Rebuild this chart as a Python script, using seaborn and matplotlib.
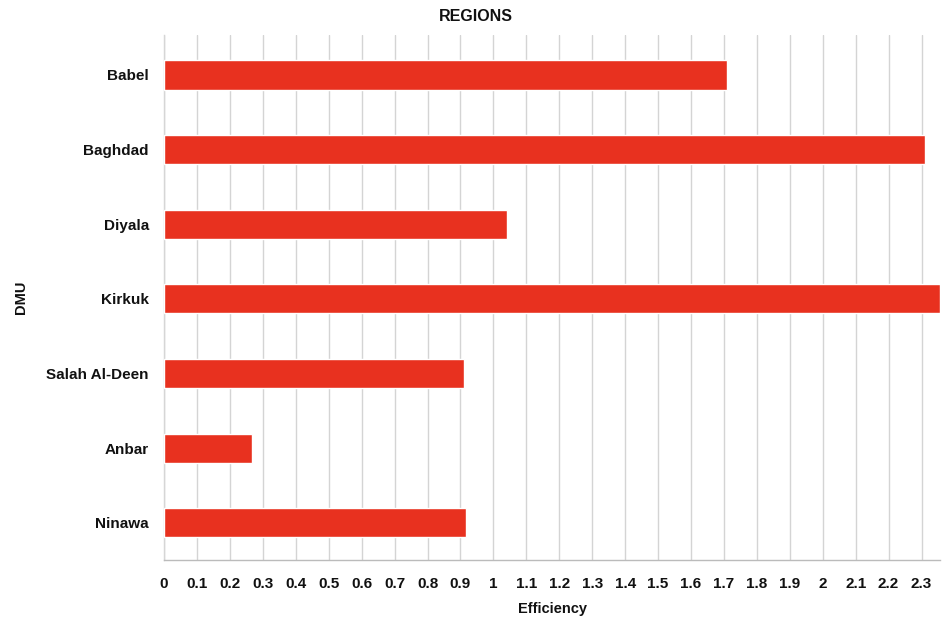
import matplotlib
matplotlib.use("Agg")
import matplotlib.pyplot as plt
import seaborn as sns
import pandas as pd
import numpy as np
from matplotlib.ticker import FixedLocator

# DEA efficiency scores by region
regions = ["Babel", "Baghdad", "Diyala", "Kirkuk", "Salah Al-Deen", "Anbar", "Ninawa"]
efficiency = [1.71, 2.31, 1.04, 2.356, 0.911, 0.266, 0.916]
x_ticks = [round(0.1 * i, 1) for i in range(24)]
x_tick_labels = [f"{t:g}" for t in x_ticks]

df = pd.DataFrame({"DMU": regions, "Efficiency": efficiency})

sns.set_theme(style="white")
plt.rcParams["font.family"] = ["Liberation Sans", "DejaVu Sans"]
plt.rcParams["font.weight"] = "bold"

fig = plt.figure(figsize=(9.52, 6.19), dpi=100)
ax = fig.add_axes([0.1723, 0.0953, 0.8151, 0.8482])

sns.barplot(data=df, x="Efficiency", y="DMU", orient="h", color="#E8311F",
            saturation=1, width=0.39, ax=ax, zorder=3)

ax.set_xlim(0, 2.356)
ax.set_ylim(6.5, -0.536)

ax.xaxis.set_major_locator(FixedLocator(x_ticks))
ax.set_xticklabels(x_tick_labels, fontsize=11, fontweight="bold", color="#111111")
ax.grid(axis="x", color="#d4d4d4", linewidth=1.0, zorder=0)
ax.grid(axis="y", visible=False)

ax.tick_params(axis="y", length=0, labelsize=11, pad=11, labelcolor="#111111")
ax.yaxis.set_minor_locator(FixedLocator(np.arange(-0.5, 6.6, 1.0)))
ax.tick_params(axis="y", which="minor", length=4, color="#cccccc", width=1, direction="out")
ax.tick_params(axis="x", length=4, color="#bbbbbb", width=1, direction="in", pad=12)
for lbl in ax.get_yticklabels():
    lbl.set_fontweight("bold")

for side in ["top", "right"]:
    ax.spines[side].set_visible(False)
ax.spines["left"].set_color("#d6d6d6")
ax.spines["left"].set_linewidth(1.0)
ax.spines["bottom"].set_color("#bbbbbb")
ax.spines["bottom"].set_linewidth(1.0)

ax.set_xlabel("Efficiency", fontsize=10.5, fontweight="bold", color="#111111", labelpad=8)
ax.set_ylabel("DMU", fontsize=10.5, fontweight="bold", color="#111111")
ax.yaxis.set_label_coords(-0.175, 0.5)

fig.text(0.5, 0.973, "REGIONS", ha="center", va="center", fontsize=11.5, fontweight="bold", color="#111111")

fig.savefig("out.png", dpi=100, facecolor="white")
